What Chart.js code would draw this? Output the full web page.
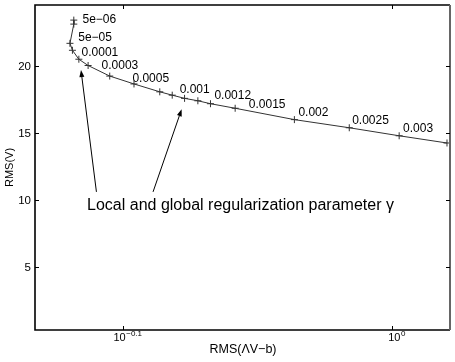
<!DOCTYPE html>
<html>
<head>
<meta charset="utf-8">
<script src="https://cdn.jsdelivr.net/npm/chart.js@4/dist/chart.umd.min.js"></script>
<style>
  html, body { margin: 0; padding: 0; background: #fff; }
  canvas { display: block; }
</style>
</head>
<body>
<canvas id="lcurve" width="455" height="362"></canvas>
<script>
// ── L-curve data: RMS(ΛV−b) vs RMS(V) ──
var rmsResidual = [0.7615, 0.7615, 0.7590, 0.7606, 0.7648, 0.7709, 0.7853, 0.8018, 0.8197,
  0.8285, 0.8373, 0.8469, 0.8561, 0.8744, 0.9199, 0.9642, 1.0063, 1.0484];
var rmsV = [23.47, 23.17, 21.73, 21.21, 20.54, 20.07, 19.28, 18.69, 18.10,
  17.85, 17.61, 17.43, 17.21, 16.87, 16.02, 15.41, 14.81, 14.27];

// gamma labels and where they sit (data coords)
var gammaLabels = ['5e\u221206', '5e\u221205', '0.0001', '0.0003', '0.0005', '0.001',
  '0.0012', '0.0015', '0.002', '0.0025', '0.003'];
var gammaX = [0.7672, 0.7644, 0.7666, 0.7798, 0.8007, 0.8338, 0.8590, 0.8847, 0.9231, 0.9666, 1.0097];
var gammaY = [23.53, 22.15, 21.04, 20.07, 19.06, 18.27, 17.82, 17.13, 16.54, 15.95, 15.36];

var xTickValues = [Math.pow(10, -0.1), 1];
var xTickExps = ['\u22120.1', '0'];
var yTickValues = [5, 10, 15, 20];

var noteText = 'Local and global regularization parameter \u03b3';
var noteAt = { x: 0.7702, y: 9.58 };
var arrowFrom = [{ x: 0.7764, y: 10.61 }, { x: 0.8150, y: 10.61 }];
var arrowTo = [{ x: 0.7662, y: 19.73 }, { x: 0.8352, y: 16.80 }];

var fontFam = '"Liberation Sans", Arial, Helvetica, sans-serif';

function drawArrow(ctx, x1, y1, x2, y2) {
  var ang = Math.atan2(y2 - y1, x2 - x1);
  var len = 7, half = 2.5;
  ctx.beginPath();
  ctx.moveTo(x1, y1);
  ctx.lineTo(x2 - Math.cos(ang) * len, y2 - Math.sin(ang) * len);
  ctx.stroke();
  ctx.beginPath();
  ctx.moveTo(x2, y2);
  ctx.lineTo(x2 - Math.cos(ang) * len - Math.sin(ang) * half, y2 - Math.sin(ang) * len + Math.cos(ang) * half);
  ctx.lineTo(x2 - Math.cos(ang) * len + Math.sin(ang) * half, y2 - Math.sin(ang) * len - Math.cos(ang) * half);
  ctx.closePath();
  ctx.fill();
}

// matlab-ish box axes with inward ticks, plus text and arrows
var matlabAxes = {
  id: 'matlabAxes',
  afterDraw: function (chart) {
    var ctx = chart.ctx, a = chart.chartArea;
    var xs = chart.scales.x, ys = chart.scales.y;
    ctx.save();

    // box
    ctx.strokeStyle = '#000';
    ctx.lineWidth = 1.6;
    ctx.beginPath();
    ctx.moveTo(a.right, a.top); ctx.lineTo(a.left, a.top);
    ctx.lineTo(a.left, a.bottom); ctx.lineTo(a.right, a.bottom);
    ctx.stroke();
    ctx.strokeStyle = '#666';
    ctx.lineWidth = 2;
    ctx.beginPath();
    ctx.moveTo(a.right, a.top); ctx.lineTo(a.right, a.bottom);
    ctx.stroke();

    // ticks
    ctx.strokeStyle = '#000';
    ctx.lineWidth = 1;
    ctx.fillStyle = '#000';
    ctx.textBaseline = 'middle';
    ctx.textAlign = 'right';
    ctx.font = '11.5px ' + fontFam;
    yTickValues.forEach(function (v) {
      var py = Math.round(ys.getPixelForValue(v)) + 0.5;
      ctx.beginPath();
      ctx.moveTo(a.left, py); ctx.lineTo(a.left + 4, py);
      ctx.moveTo(a.right, py); ctx.lineTo(a.right - 4, py);
      ctx.stroke();
      ctx.fillText(String(v), a.left - 4, py);
    });
    xTickValues.forEach(function (v, i) {
      var px = Math.round(xs.getPixelForValue(v)) + 0.5;
      ctx.beginPath();
      ctx.moveTo(px, a.bottom); ctx.lineTo(px, a.bottom - 4);
      ctx.moveTo(px, a.top); ctx.lineTo(px, a.top + 4);
      ctx.stroke();
      ctx.font = '11px ' + fontFam;
      var wBase = ctx.measureText('10').width;
      ctx.font = '8px ' + fontFam;
      var wExp = ctx.measureText(xTickExps[i]).width;
      var left = px + 4 - (wBase + wExp) / 2;
      ctx.textAlign = 'left';
      ctx.textBaseline = 'alphabetic';
      ctx.font = '11px ' + fontFam;
      ctx.fillText('10', left, a.bottom + 11);
      ctx.font = '8px ' + fontFam;
      ctx.fillText(xTickExps[i], left + wBase + 0.5, a.bottom + 6);
    });

    // axis titles
    ctx.textAlign = 'center';
    ctx.textBaseline = 'middle';
    ctx.font = '12.5px ' + fontFam;
    ctx.fillText('RMS(\u039bV\u2212b)', 243, 350);
    ctx.save();
    ctx.translate(10, (a.top + a.bottom) / 2);
    ctx.rotate(-Math.PI / 2);
    ctx.font = '11px ' + fontFam;
    ctx.fillText('RMS(V)', 0, 0);
    ctx.restore();

    // gamma labels
    ctx.textAlign = 'left';
    ctx.textBaseline = 'middle';
    ctx.font = '12px ' + fontFam;
    gammaLabels.forEach(function (t, i) {
      ctx.fillText(t, xs.getPixelForValue(gammaX[i]), ys.getPixelForValue(gammaY[i]));
    });

    // annotation + arrows
    ctx.font = '16px ' + fontFam;
    ctx.fillText(noteText, xs.getPixelForValue(noteAt.x), ys.getPixelForValue(noteAt.y));
    ctx.lineWidth = 1;
    for (var k = 0; k < arrowFrom.length; k++) {
      drawArrow(ctx,
        xs.getPixelForValue(arrowFrom[k].x), ys.getPixelForValue(arrowFrom[k].y),
        xs.getPixelForValue(arrowTo[k].x), ys.getPixelForValue(arrowTo[k].y));
    }
    ctx.restore();
  }
};

var points = rmsResidual.map(function (x, i) { return { x: x, y: rmsV[i] }; });

new Chart(document.getElementById('lcurve'), {
  type: 'scatter',
  data: {
    datasets: [{
      data: points, showLine: true, tension: 0,
      borderColor: '#333', borderWidth: 1,
      pointStyle: 'cross', pointRadius: 3.5, pointBorderColor: '#333', pointBorderWidth: 1,
      pointBackgroundColor: '#333',
    }],
  },
  options: {
    responsive: false, animation: false, devicePixelRatio: 1,
    layout: { padding: { left: 35, top: 1, right: 4, bottom: 32 } },
    plugins: { legend: { display: false }, tooltip: { enabled: false } },
    scales: {
      x: { type: 'logarithmic', min: 0.7366, max: 1.0511, display: false },
      y: { type: 'linear', min: 0.27, max: 24.6, display: false },
    },
  },
  plugins: [matlabAxes],
});
</script>
</body>
</html>
